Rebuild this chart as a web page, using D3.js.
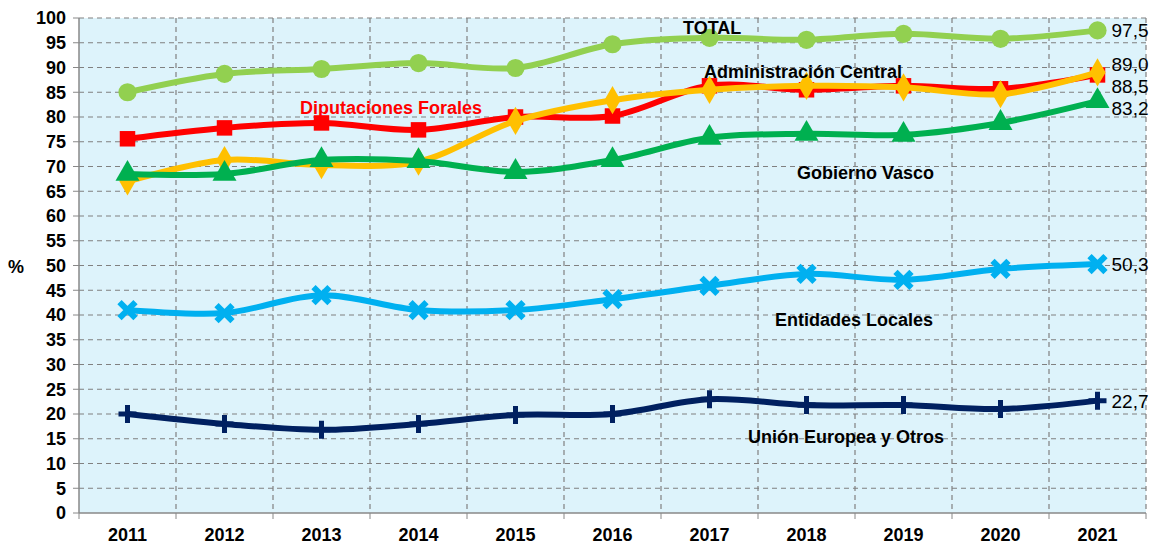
<!DOCTYPE html>
<html>
  <head>
    <script src="https://d3js.org/d3.v7.min.js"></script>
    <style>
      body { margin: 0; background: #fff; }
      text { font-family: "Liberation Sans", Arial, sans-serif; }
      .tick-label { font-size: 18px; font-weight: bold; fill: #000; }
      .series-label { font-size: 18px; font-weight: bold; }
      .end-label { font-size: 19px; fill: #000; }
    </style>
  </head>
  <body>
    <div id="chart"></div>
    <script>
      const years = ["2011", "2012", "2013", "2014", "2015", "2016", "2017", "2018", "2019", "2020", "2021"];
      const yTicks = d3.range(0, 101, 5);

      const total = [85.0, 88.7, 89.7, 90.9, 89.9, 94.7, 96.0, 95.6, 96.8, 95.8, 97.5];
      const diputaciones = [75.6, 77.8, 78.8, 77.4, 80.0, 80.2, 86.3, 85.5, 86.3, 85.7, 88.5];
      const adminCentral = [67.0, 71.3, 70.3, 71.0, 79.2, 83.4, 85.5, 86.3, 86.0, 84.6, 89.0];
      const gobiernoVasco = [68.5, 68.5, 71.3, 71.1, 68.9, 71.3, 75.8, 76.6, 76.4, 78.8, 83.2];
      const entidadesLocales = [41.0, 40.4, 44.0, 41.0, 41.0, 43.2, 45.9, 48.3, 47.1, 49.3, 50.3];
      const unionEuropea = [20.0, 18.0, 16.8, 18.0, 19.8, 20.0, 23.0, 21.8, 21.8, 21.0, 22.7];

      const series = [
        { name: "TOTAL", values: total, color: "#92D050", marker: "circle", labelColor: "#000", lx: 683, ly: 34, end: "97,5", endDy: 0 },
        { name: "Diputaciones Forales", values: diputaciones, color: "#FF0000", marker: "square", labelColor: "#FF0000", lx: 300, ly: 114, end: "88,5", endDy: 11 },
        { name: "Administración Central", values: adminCentral, color: "#FFC000", marker: "diamond", labelColor: "#000", lx: 704, ly: 78, end: "89,0", endDy: -8 },
        { name: "Gobierno Vasco", values: gobiernoVasco, color: "#00B050", marker: "triangle", labelColor: "#000", lx: 797, ly: 179, end: "83,2", endDy: 7 },
        { name: "Entidades Locales", values: entidadesLocales, color: "#00B0F0", marker: "cross", labelColor: "#000", lx: 775, ly: 326, end: "50,3", endDy: 0 },
        { name: "Unión Europea y Otros", values: unionEuropea, color: "#002060", marker: "plus", labelColor: "#000", lx: 748, ly: 443, end: "22,7", endDy: 1 }
      ];

      const W = 1154, H = 545;
      const margin = { top: 18, right: 8, bottom: 32, left: 79 };
      const width = W - margin.left - margin.right;
      const height = H - margin.top - margin.bottom;

      const svg = d3.select("#chart").append("svg")
        .attr("width", W)
        .attr("height", H);
      const g = svg.append("g")
        .attr("transform", `translate(${margin.left},${margin.top})`);

      const x = d3.scaleBand().domain(years).range([0, width]);
      const y = d3.scaleLinear().domain([0, 100]).range([height, 0]);

      // plot background
      g.append("rect")
        .attr("width", width)
        .attr("height", height)
        .attr("fill", "#DDF3FB");

      // horizontal grid
      g.selectAll(".hgrid")
        .data(yTicks.filter((d) => d > 0))
        .enter()
        .append("line")
        .attr("x1", 0)
        .attr("x2", width)
        .attr("y1", (d) => y(d))
        .attr("y2", (d) => y(d))
        .attr("stroke", "#808080")
        .attr("stroke-width", 1.2)
        .attr("stroke-dasharray", "5,4");

      // vertical grid at category boundaries
      const bounds = years.slice(1).map((d) => x(d)).concat([width]);
      g.selectAll(".vgrid")
        .data(bounds)
        .enter()
        .append("line")
        .attr("x1", (d) => d)
        .attr("x2", (d) => d)
        .attr("y1", 0)
        .attr("y2", height)
        .attr("stroke", "#808080")
        .attr("stroke-width", 1.2)
        .attr("stroke-dasharray", "5,4");

      // axes lines
      g.append("line").attr("x1", 0).attr("x2", 0).attr("y1", 0).attr("y2", height)
        .attr("stroke", "#888").attr("stroke-width", 1.5);
      g.append("line").attr("x1", 0).attr("x2", width).attr("y1", height).attr("y2", height)
        .attr("stroke", "#888").attr("stroke-width", 1.5);

      // y ticks and labels
      g.selectAll(".ytick")
        .data(yTicks)
        .enter()
        .append("line")
        .attr("x1", -6)
        .attr("x2", 0)
        .attr("y1", (d) => y(d))
        .attr("y2", (d) => y(d))
        .attr("stroke", "#888");
      g.selectAll(".ylab")
        .data(yTicks)
        .enter()
        .append("text")
        .attr("class", "tick-label")
        .attr("x", -13)
        .attr("y", (d) => y(d))
        .attr("dy", "0.35em")
        .attr("text-anchor", "end")
        .text((d) => d);

      // x ticks and labels
      g.selectAll(".xtick")
        .data([0].concat(bounds))
        .enter()
        .append("line")
        .attr("x1", (d) => d)
        .attr("x2", (d) => d)
        .attr("y1", height)
        .attr("y2", height + 6)
        .attr("stroke", "#888");
      g.selectAll(".xlab")
        .data(years)
        .enter()
        .append("text")
        .attr("class", "tick-label")
        .attr("x", (d) => x(d) + x.bandwidth() / 2)
        .attr("y", height + 28)
        .attr("text-anchor", "middle")
        .text((d) => d);

      svg.append("text")
        .attr("class", "tick-label")
        .attr("x", 16)
        .attr("y", 273)
        .attr("text-anchor", "middle")
        .text("%");

      const line = d3.line()
        .x((d, i) => x(years[i]) + x.bandwidth() / 2)
        .y((d) => y(d))
        .curve(d3.curveCatmullRom.alpha(0.5));

      const symbols = {
        circle: d3.symbol().type(d3.symbolCircle).size(260),
        square: d3.symbol().type(d3.symbolSquare).size(240),
        diamond: d3.symbol().type(d3.symbolDiamond).size(230),
        triangle: d3.symbol().type(d3.symbolTriangle).size(250)
      };

      series.forEach((s) => {
        g.append("path")
          .datum(s.values)
          .attr("fill", "none")
          .attr("stroke", s.color)
          .attr("stroke-width", 6)
          .attr("stroke-linejoin", "round")
          .attr("d", line);

        const pts = g.selectAll(null)
          .data(s.values)
          .enter()
          .append("g")
          .attr("transform", (d, i) => `translate(${x(years[i]) + x.bandwidth() / 2},${y(d)})`);

        if (s.marker === "cross") {
          pts.append("path")
            .attr("d", "M-8,-8L8,8M-8,8L8,-8")
            .attr("stroke", s.color)
            .attr("stroke-width", 6);
        } else if (s.marker === "plus") {
          pts.append("path")
            .attr("d", "M-9,0L9,0M0,-9L0,9")
            .attr("stroke", s.color)
            .attr("stroke-width", 5);
        } else {
          pts.append("path")
            .attr("d", symbols[s.marker])
            .attr("fill", s.color);
        }

        const last = s.values.length - 1;
        g.append("text")
          .attr("class", "end-label")
          .attr("x", x(years[last]) + x.bandwidth() / 2 + 14)
          .attr("y", y(s.values[last]) + s.endDy)
          .attr("dy", "0.35em")
          .text(s.end);

        svg.append("text")
          .attr("class", "series-label")
          .attr("x", s.lx)
          .attr("y", s.ly)
          .attr("fill", s.labelColor)
          .text(s.name);
      });
    </script>
  </body>
</html>
